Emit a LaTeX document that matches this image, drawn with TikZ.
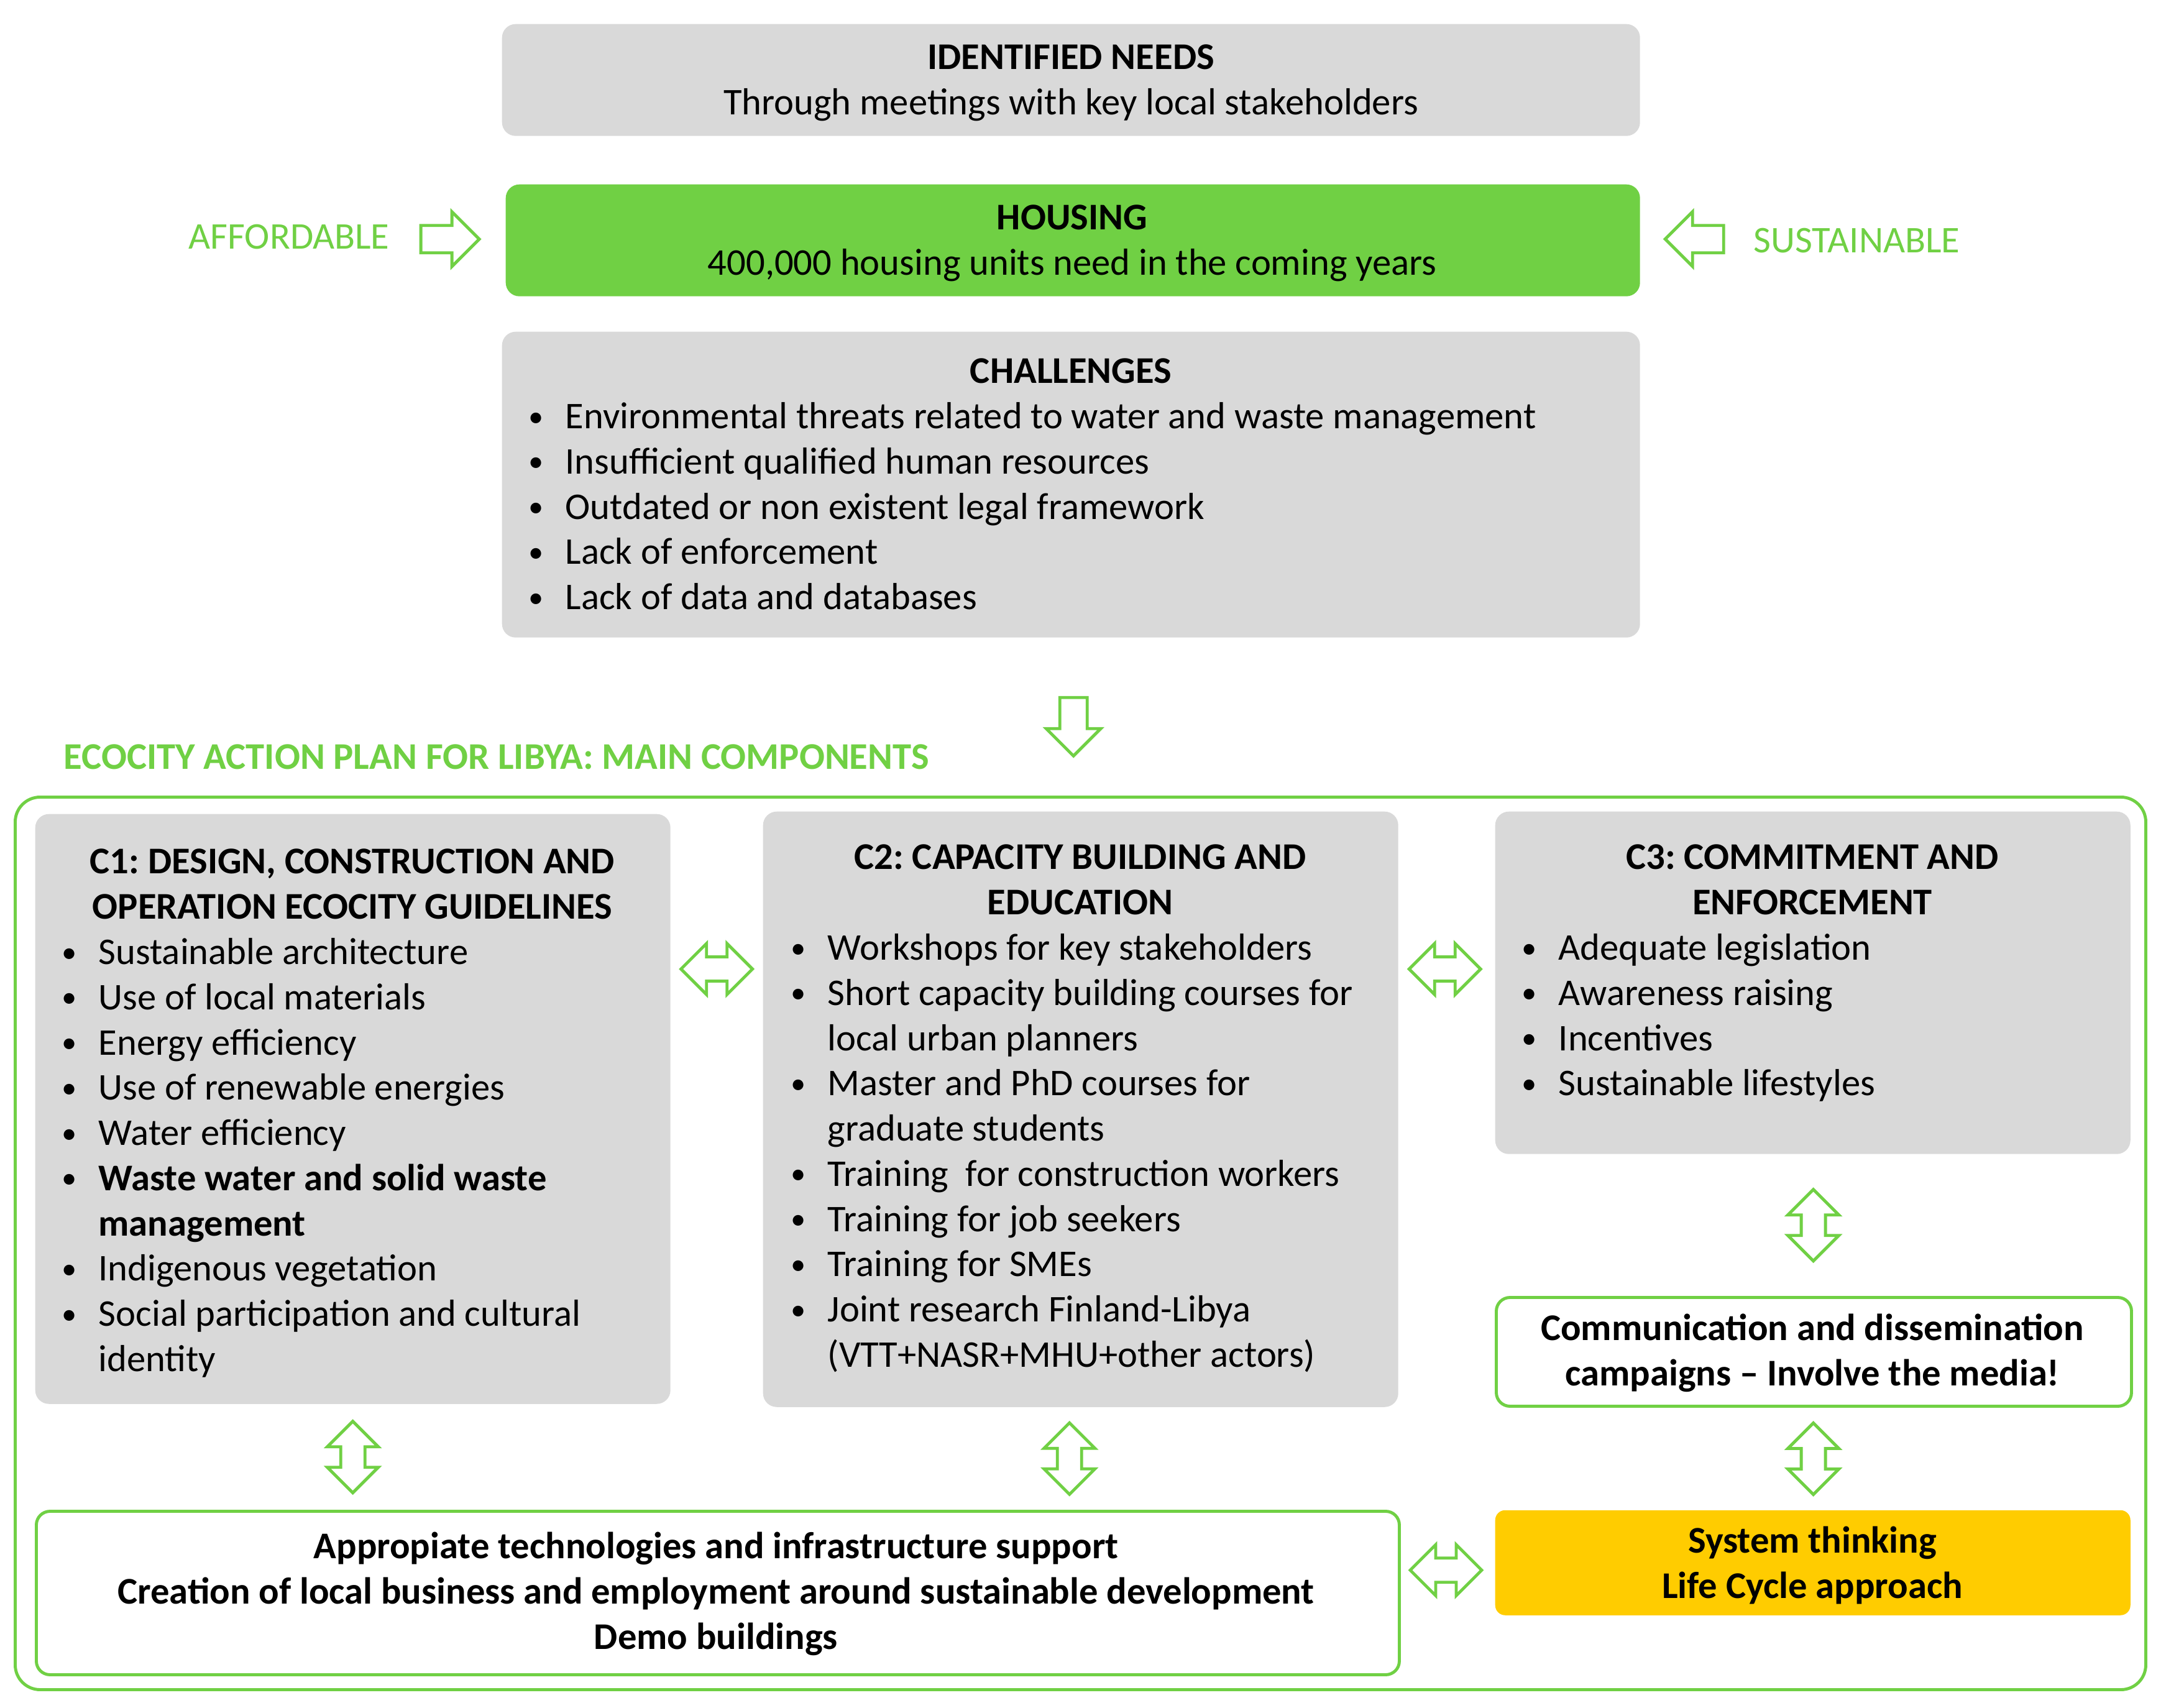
\documentclass[tikz,border=0pt]{standalone}
\usepackage{fontspec}
\setmainfont{Carlito}
\usepackage{xcolor}
\usetikzlibrary{arrows.meta,positioning,calc}
\definecolor{eco}{HTML}{70D044}
\definecolor{panel}{HTML}{D9D9D9}
\definecolor{sysy}{HTML}{FFCC00}
\frenchspacing
\newcommand{\bodyfont}{\fontsize{17.25}{20.7}\selectfont}
\newcommand{\bitem}{\makebox[0.59cm][l]{\raisebox{0.06em}{\scalebox{0.8}{\textbullet}}}}
\newcommand{\bcont}{\hspace*{0.59cm}}
\tikzset{
  graybox/.style={fill=panel, rounded corners=0.22cm, inner sep=0pt, anchor=north west},
  linebox/.style={draw=eco, line width=1.4pt, fill=white, rounded corners=0.22cm, inner sep=0pt, anchor=north west},
  txt/.style={inner sep=0pt, font=\bodyfont},
  blockarrow/.style={draw=eco, line width=1.4pt, fill=white, line join=miter},
  pics/dblarrow/.style={code={
    \draw[blockarrow] (-0.575,0) -- (-0.165,-0.41) -- (-0.165,-0.195) -- (0.165,-0.195)
      -- (0.165,-0.41) -- (0.575,0) -- (0.165,0.41) -- (0.165,0.195) -- (-0.165,0.195)
      -- (-0.165,0.41) -- cycle;}},
  pics/onearrow/.style={code={
    \draw[blockarrow] (-0.47,-0.22) -- (0.03,-0.22) -- (0.03,-0.44) -- (0.47,0)
      -- (0.03,0.44) -- (0.03,0.22) -- (-0.47,0.22) -- cycle;}},
}
\begin{document}
\begin{tikzpicture}[yscale=-1]
\useasboundingbox (0,0) rectangle (34.85,27.47);
% top column: needs, housing, challenges
\node[graybox, minimum width=18.31cm, minimum height=1.80cm] (needs) at (8.07,0.38) {};
\node[txt, anchor=north, align=center] (needs-txt) at (17.23,0.60)
  {\strut\textbf{IDENTIFIED NEEDS}\\ Through meetings with key local stakeholders};
\node[graybox, fill=eco, minimum width=18.25cm, minimum height=1.80cm] (housing) at (8.13,2.96) {};
\node[txt, anchor=north, align=center] (housing-txt) at (17.25,3.18)
  {\strut\textbf{HOUSING}\\ 400,000 housing units need in the coming years};
\node[txt, anchor=base west, text=eco] (afford) at (3.03,4.00) {AFFORDABLE};
\node[txt, anchor=base west, text=eco] (sustain) at (28.21,4.06) {SUSTAINABLE};
\pic at ($(afford.east |- housing.west)!0.5!(housing.west)+(0.04,-0.02)$) {onearrow};
\pic[rotate=180] at ($(housing.east)!0.5!(sustain.west |- housing.east)+(-0.04,-0.02)$) {onearrow};
\node[graybox, minimum width=18.31cm, minimum height=4.92cm] (challenges) at (8.07,5.33) {};
\node[txt, anchor=north] (challenges-title) at (17.23,5.65) {\strut\textbf{CHALLENGES}};
\node[txt, anchor=north west, align=left] (challenges-list) at (8.50,6.38)
  {\strut\bitem Environmental threats related to water and waste management\\
   \bitem Insufficient qualified human resources\\
   \bitem Outdated or non existent legal framework\\
   \bitem Lack of enforcement\\
   \bitem Lack of data and databases};
% action plan frame
\node[txt, anchor=base west, text=eco, font=\bodyfont\bfseries] (plan-title) at (1.02,12.37)
  {ECOCITY ACTION PLAN FOR LIBYA: MAIN COMPONENTS};
\node[linebox, rounded corners=0.4cm, fill=none, minimum width=34.28cm, minimum height=14.36cm] (plan) at (0.22,12.80) {};
\pic[rotate=-90] at ($(challenges.south)!0.5!(challenges.south |- plan.north)+(0.04,0.16)$) {onearrow};
% components
\node[graybox, minimum width=10.22cm, minimum height=9.49cm] (c1) at (0.56,13.09) {};
\node[txt, anchor=north, align=center] (c1-title) at (5.67,13.54)
  {\strut\textbf{C1: DESIGN, CONSTRUCTION AND}\\ \textbf{OPERATION ECOCITY GUIDELINES}};
\node[txt, anchor=north west, align=left] (c1-list) at (0.99,15.00)
  {\strut\bitem Sustainable architecture\\
   \bitem Use of local materials\\
   \bitem Energy efficiency\\
   \bitem Use of renewable energies\\
   \bitem Water efficiency\\
   \bitem\textbf{Waste water and solid waste}\\
   \bcont\textbf{management}\\
   \bitem Indigenous vegetation\\
   \bitem Social participation and cultural\\
   \bcont identity};
\node[graybox, minimum width=10.22cm, minimum height=9.58cm] (c2) at (12.27,13.05) {};
\node[txt, anchor=north, align=center] (c2-title) at (17.38,13.47)
  {\strut\textbf{C2: CAPACITY BUILDING AND}\\ \textbf{EDUCATION}};
\node[txt, anchor=north west, align=left] (c2-list) at (12.72,14.93)
  {\strut\bitem Workshops for key stakeholders\\
   \bitem Short capacity building courses for\\
   \bcont local urban planners\\
   \bitem Master and PhD courses for\\
   \bcont graduate students\\
   \bitem Training\ \ for construction workers\\
   \bitem Training for job seekers\\
   \bitem Training for SMEs\\
   \bitem Joint research Finland-Libya\\
   \bcont (VTT+NASR+MHU+other actors)};
\node[graybox, minimum width=10.22cm, minimum height=5.51cm] (c3) at (24.05,13.05) {};
\node[txt, anchor=north, align=center] (c3-title) at (29.16,13.47)
  {\strut\textbf{C3: COMMITMENT AND}\\ \textbf{ENFORCEMENT}};
\node[txt, anchor=north west, align=left] (c3-list) at (24.48,14.93)
  {\strut\bitem Adequate legislation\\
   \bitem Awareness raising\\
   \bitem Incentives\\
   \bitem Sustainable lifestyles};
\node[linebox, minimum width=10.22cm, minimum height=1.75cm] (comm) at (24.05,20.85) {};
\node[txt, anchor=north, align=center] (comm-txt) at (29.16,21.05)
  {\strut\textbf{Communication and dissemination}\\ \textbf{campaigns -- Involve the media!}};
\node[linebox, minimum width=21.93cm, minimum height=2.63cm] (demo) at (0.56,24.29) {};
\node[txt, anchor=north, align=center, font=\bodyfont\bfseries] (demo-txt) at (11.52,24.56)
  {\strut Appropiate technologies and infrastructure support\\
   Creation of local business and employment around sustainable development\\
   Demo buildings};
\node[graybox, fill=sysy, rounded corners=0.16cm, minimum width=10.22cm, minimum height=1.69cm] (sys) at (24.05,24.29) {};
\node[txt, anchor=north, align=center, font=\bodyfont\bfseries] (sys-txt) at (29.16,24.47)
  {\strut System thinking\\ Life Cycle approach};
% links between components
\pic at ($(c1.north east)!0.5!(c2.north west)+(0,2.52)$) {dblarrow};
\pic at ($(c2.north east)!0.5!(c3.north west)+(-0.03,2.54)$) {dblarrow};
\pic at ($(demo.east |- sys.west)!0.5!(sys.west)+(-0.03,0.12)$) {dblarrow};
\pic[rotate=90] at ($(c3.south)!0.5!(comm.north)$) {dblarrow};
\pic[rotate=90] at ($(comm.south)!0.5!(sys.north)$) {dblarrow};
\pic[rotate=90] at ($(c1.south)!0.5!(c1.south |- demo.north)$) {dblarrow};
\pic[rotate=90] at ($(c2.south)!0.5!(c2.south |- demo.north)+(-0.18,0)$) {dblarrow};
\end{tikzpicture}
\end{document}
